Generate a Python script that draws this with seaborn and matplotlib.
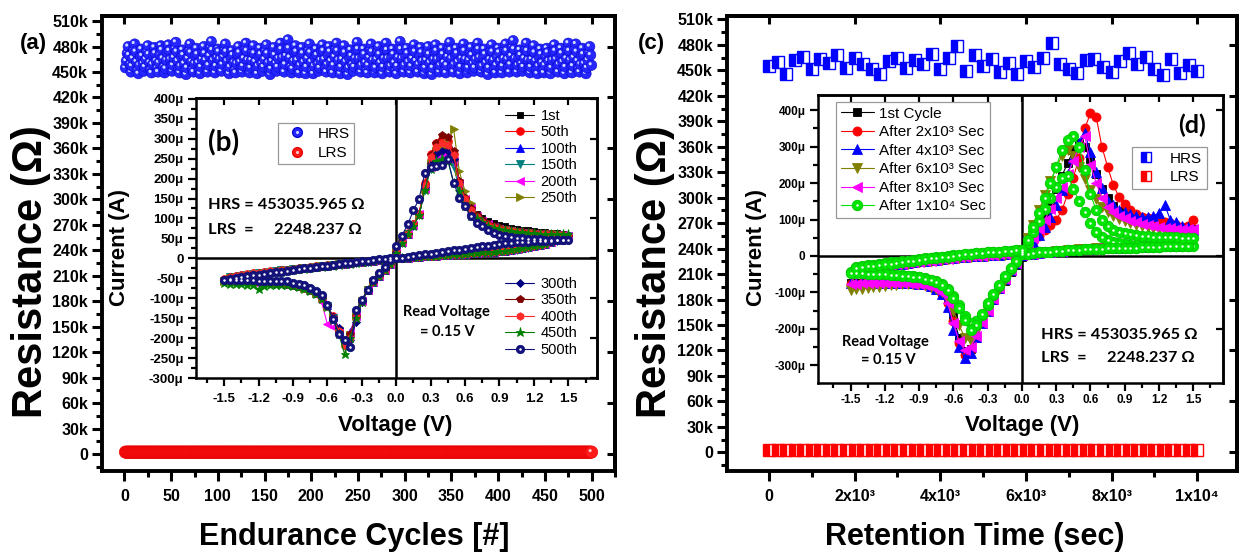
import numpy as np
import matplotlib
matplotlib.use("Agg")
import matplotlib.pyplot as plt
import seaborn as sns
from matplotlib.ticker import MultipleLocator, FuncFormatter, NullFormatter
from matplotlib.lines import Line2D

# ======================= DATA =======================
# (a) endurance: HRS in kOhm, LRS in Ohm, one value per cycle
hrs_endurance_k = [
455,463,472,480,470,459,450,457,466,476,483,474,462,452,448,458,468,477,469,460,451,456,465,474,481,
471,461,453,449,459,470,479,472,463,455,450,461,471,481,476,466,456,449,454,464,473,482,475,465,457,
451,458,467,478,485,474,463,454,449,457,468,476,470,460,452,447,455,466,475,483,473,462,453,450,460,
469,478,471,461,452,448,456,465,474,480,472,464,455,450,458,469,479,486,476,464,454,449,457,467,477,
474,465,456,451,459,468,476,483,474,463,453,448,456,466,475,470,461,452,449,460,471,480,473,462,454,
450,457,466,477,484,475,464,455,449,455,464,473,481,472,462,453,448,457,468,478,471,460,451,456,465,
475,482,472,461,452,447,454,463,472,479,470,460,451,456,466,476,484,477,467,457,450,459,469,478,488,
478,467,456,449,454,463,473,481,474,464,454,449,458,469,479,472,462,453,448,456,466,476,483,473,462,
452,448,457,467,477,470,460,451,455,464,474,482,475,465,455,450,459,470,480,474,463,453,449,458,468,
477,484,475,464,454,448,456,465,475,481,473,462,452,447,455,466,476,469,459,451,456,466,476,485,477,
466,456,450,458,468,477,471,461,452,449,458,467,476,483,474,464,455,449,455,465,474,480,471,461,453,
448,456,466,476,484,476,466,457,450,457,467,477,471,461,452,448,457,467,478,486,477,466,456,450,458,
468,478,472,462,453,449,457,466,475,482,474,463,454,450,459,469,479,473,463,454,448,455,464,473,480,
471,461,452,447,455,465,474,482,475,465,456,450,458,468,478,471,461,452,449,458,468,477,485,476,466,
456,450,459,469,478,472,462,453,448,456,466,475,483,475,465,455,449,455,464,473,479,470,460,451,455,
465,475,484,477,467,457,450,457,467,477,471,461,452,447,455,465,475,482,474,464,454,449,458,468,478,
473,463,454,449,457,466,476,483,475,465,456,450,459,469,479,487,477,466,456,450,458,467,476,470,460,
451,456,466,476,484,475,464,455,449,456,465,474,481,473,463,453,448,457,467,477,471,461,452,449,458,
468,478,473,463,454,448,455,464,474,482,475,465,456,450,459,469,478,472,462,453,448,456,466,476,484,
475,464,455,449,457,467,477,483,474,463,454,450,459,469,478,471,460,452,448,455,464,473,480,470,458,
]
lrs_endurance_ohm = [
2251,2244,2257,2239,2248,2262,2246,2235,2253,2249,2241,2258,2245,2252,2237,2247,2256,2242,2250,2243,2259,2238,2251,2246,2254,
2240,2249,2257,2243,2252,2246,2238,2255,2248,2241,2253,2245,2250,2236,2256,2244,2249,2252,2240,2258,2247,2242,2254,2246,2251,
2248,2255,2239,2250,2244,2261,2247,2236,2252,2249,2243,2257,2245,2251,2238,2248,2255,2241,2250,2244,2258,2237,2252,2247,2253,
2242,2250,2256,2244,2251,2247,2239,2254,2249,2240,2252,2246,2251,2237,2255,2245,2248,2253,2241,2257,2246,2243,2255,2247,2250,
2249,2254,2240,2251,2245,2260,2248,2237,2251,2250,2244,2256,2246,2250,2239,2249,2254,2242,2251,2245,2257,2238,2251,2248,2252,
2243,2251,2255,2245,2250,2248,2240,2253,2250,2241,2251,2247,2252,2238,2254,2246,2247,2254,2242,2256,2247,2244,2254,2248,2249,
2250,2253,2241,2252,2246,2259,2249,2238,2250,2251,2245,2255,2247,2249,2240,2250,2253,2243,2252,2246,2256,2239,2250,2249,2251,
2244,2252,2254,2246,2249,2249,2241,2252,2251,2242,2250,2248,2253,2239,2253,2247,2246,2255,2243,2255,2248,2245,2253,2249,2248,
2251,2252,2242,2253,2247,2258,2250,2239,2249,2252,2246,2254,2248,2248,2241,2251,2252,2244,2253,2247,2255,2240,2249,2250,2250,
2245,2253,2253,2247,2248,2250,2242,2251,2252,2243,2249,2249,2254,2240,2252,2248,2245,2256,2244,2254,2249,2246,2252,2250,2247,
2252,2251,2243,2254,2248,2257,2251,2240,2248,2253,2247,2253,2249,2247,2242,2252,2251,2245,2254,2248,2254,2241,2248,2251,2249,
2246,2254,2252,2248,2247,2251,2243,2250,2253,2244,2248,2250,2255,2241,2251,2249,2244,2257,2245,2253,2250,2247,2251,2251,2246,
2253,2250,2244,2255,2249,2256,2252,2241,2247,2254,2248,2252,2250,2246,2243,2253,2250,2246,2255,2249,2253,2242,2247,2252,2248,
2247,2255,2251,2249,2246,2252,2244,2249,2254,2245,2247,2251,2256,2242,2250,2250,2243,2258,2246,2252,2251,2248,2250,2252,2245,
2254,2249,2245,2256,2250,2255,2253,2242,2246,2255,2249,2251,2251,2245,2244,2254,2249,2247,2256,2250,2252,2243,2246,2253,2247,
2248,2256,2250,2250,2245,2253,2245,2248,2255,2246,2246,2252,2257,2243,2249,2251,2242,2259,2247,2251,2252,2249,2249,2253,2244,
2255,2248,2246,2257,2251,2254,2254,2243,2245,2256,2250,2250,2252,2244,2245,2255,2248,2248,2257,2251,2251,2244,2245,2254,2246,
2249,2257,2249,2251,2244,2254,2246,2247,2256,2247,2245,2253,2258,2244,2248,2252,2241,2260,2248,2250,2253,2250,2248,2254,2243,
2256,2247,2247,2258,2252,2253,2255,2244,2244,2257,2251,2249,2253,2243,2246,2256,2247,2249,2258,2252,2250,2245,2244,2255,2245,
2250,2258,2248,2252,2243,2255,2247,2246,2257,2248,2244,2254,2259,2245,2247,2253,2240,2261,2249,2249,2254,2251,2247,2255,2248,
]

# (c) retention
retention_time_s = [0,200,400,600,800,1000,1200,1400,1600,1800,2000,2200,2400,2600,2800,3000,3200,3400,3600,3800,
                    4000,4200,4400,4600,4800,5000,5200,5400,5600,5800,6000,6200,6400,6600,6800,7000,7200,7400,7600,7800,
                    8000,8200,8400,8600,8800,9000,9200,9400,9600,9800,10000]
hrs_retention_k = [455,460,446,462,466,452,463,459,468,453,464,458,452,446,461,465,453,462,458,469,
                   452,464,479,449,468,455,463,448,459,446,461,454,465,482,458,452,447,462,463,454,
                   448,461,470,457,466,452,445,463,447,456,449]
lrs_retention_ohm = [2251,2243,2256,2239,2248,2262,2245,2237,2253,2249,2241,2258,2246,2252,2236,2247,2255,2242,2250,2244,
                     2259,2238,2251,2247,2254,2240,2249,2257,2243,2252,2246,2239,2255,2248,2241,2253,2245,2250,2237,2256,
                     2244,2249,2252,2240,2258,2247,2243,2254,2246,2251,2248]

# voltage sweep: 0 -> 1.5 -> 0 -> -1.5 -> 0 (V)
sweep_v = [0.00,0.05,0.10,0.15,0.20,0.25,0.30,0.35,0.40,0.45,0.50,0.55,0.60,0.65,0.70,0.75,0.80,0.85,0.90,0.95,
           1.00,1.05,1.10,1.15,1.20,1.25,1.30,1.35,1.40,1.45,1.50,
           1.45,1.40,1.35,1.30,1.25,1.20,1.15,1.10,1.05,1.00,0.95,0.90,0.85,0.80,0.75,0.70,0.65,0.60,0.55,0.50,
           0.45,0.40,0.35,0.30,0.25,0.20,0.15,0.10,0.05,0.00,
           -0.05,-0.10,-0.15,-0.20,-0.25,-0.30,-0.35,-0.40,-0.45,-0.50,-0.55,-0.60,-0.65,-0.70,-0.75,-0.80,-0.85,-0.90,-0.95,-1.00,
           -1.05,-1.10,-1.15,-1.20,-1.25,-1.30,-1.35,-1.40,-1.45,-1.50,
           -1.45,-1.40,-1.35,-1.30,-1.25,-1.20,-1.15,-1.10,-1.05,-1.00,-0.95,-0.90,-0.85,-0.80,-0.75,-0.70,-0.65,-0.60,-0.55,-0.50,
           -0.45,-0.40,-0.35,-0.30,-0.25,-0.20,-0.15,-0.10,-0.05,0.00]

# (b) I-V curves at several endurance cycles, current in microamps
iv_b_1st = [0,1,2,3,4,5,6,7,8,9,10,11,12,13,14,15,16,17,18,19,21,23,25,28,31,34,37,41,45,50,58,
    62,63,64,65,66,68,70,72,74,77,80,84,88,94,101,112,128,150,188,245,275,282,272,240,175,108,84,61,39,14,
    -14,-28,-42,-58,-78,-106,-140,-190,-212,-180,-150,-120,-100,-88,-80,-74,-70,-67,-65,-64,-63,-62,-61,-60,-60,-59,-59,-58,-58,-58,
    -48,-46,-44,-42,-40,-38,-36,-34,-32,-31,-29,-28,-26,-25,-23,-22,-20,-19,-17,-16,-14,-13,-11,-10,-8,-7,-5,-3,-1,0]
iv_b_50th = [0,1,2,3,4,5,6,7,8,9,10,11,12,13,14,15,16,17,18,19,21,23,25,28,31,34,37,41,45,50,56,
    59,59,60,60,61,62,63,65,67,69,71,75,79,85,92,104,121,145,188,262,295,300,290,262,190,112,86,63,41,16,
    -15,-30,-45,-60,-80,-108,-145,-195,-215,-178,-145,-118,-98,-86,-78,-72,-68,-65,-63,-61,-60,-58,-57,-56,-55,-54,-53,-52,-52,-51,
    -46,-44,-42,-40,-38,-36,-34,-32,-31,-29,-28,-26,-25,-23,-22,-20,-19,-17,-16,-14,-13,-12,-10,-9,-7,-6,-4,-3,-1,0]
iv_b_100th = [0,1,2,3,4,5,6,7,8,9,10,11,12,13,14,15,16,17,18,19,21,23,25,28,31,34,37,41,45,50,56,
    58,59,59,60,61,62,63,64,66,68,71,74,78,84,92,103,120,148,195,255,272,268,262,235,178,110,84,62,40,15,
    -14,-29,-44,-59,-79,-105,-142,-185,-205,-175,-148,-118,-99,-87,-79,-73,-69,-66,-64,-62,-61,-60,-59,-58,-57,-57,-56,-56,-55,-55,
    -47,-45,-43,-41,-39,-37,-35,-33,-31,-30,-28,-27,-25,-24,-22,-21,-19,-18,-16,-15,-13,-12,-10,-9,-7,-6,-4,-3,-1,0]
iv_b_150th = [0,1,2,3,4,5,6,7,8,9,10,11,12,13,14,15,16,17,18,19,20,22,24,27,30,33,36,40,44,49,55,
    57,57,58,58,59,60,61,62,64,66,68,71,75,80,88,98,112,135,175,230,250,252,248,225,172,108,82,60,39,14,
    -14,-29,-44,-60,-80,-110,-150,-200,-218,-182,-150,-120,-100,-88,-80,-74,-70,-67,-65,-63,-62,-61,-60,-59,-59,-58,-58,-57,-57,-57,
    -48,-46,-44,-42,-40,-38,-36,-34,-32,-30,-29,-27,-26,-24,-23,-21,-20,-18,-17,-15,-14,-12,-11,-9,-8,-6,-5,-3,-2,0]
iv_b_200th = [0,1,2,3,4,5,6,7,8,9,10,11,12,13,14,15,16,17,18,19,21,23,25,28,31,34,37,41,45,50,56,
    58,58,59,60,61,62,63,64,66,68,71,74,79,85,94,106,125,150,190,245,262,265,255,230,175,110,83,61,40,15,
    -14,-29,-44,-60,-80,-108,-145,-185,-205,-185,-172,-165,-110,-92,-82,-75,-70,-67,-65,-63,-62,-61,-60,-59,-59,-58,-58,-57,-57,-57,
    -47,-45,-43,-41,-39,-37,-35,-33,-31,-30,-28,-27,-25,-24,-22,-21,-19,-18,-16,-15,-13,-12,-10,-9,-7,-6,-4,-3,-1,0]
iv_b_250th = [0,1,2,3,4,5,6,7,8,9,10,11,12,13,14,15,16,17,18,19,21,23,25,28,31,34,37,41,45,50,56,
    59,60,60,61,62,63,64,66,68,70,73,77,82,89,98,112,140,168,218,325,290,280,270,240,175,110,85,62,40,15,
    -14,-29,-44,-60,-80,-108,-145,-192,-212,-180,-148,-120,-100,-88,-80,-74,-70,-67,-65,-63,-62,-61,-60,-59,-59,-58,-58,-57,-57,-57,
    -49,-47,-45,-43,-41,-39,-37,-35,-33,-31,-29,-28,-26,-25,-23,-22,-20,-18,-17,-15,-14,-12,-11,-9,-8,-6,-5,-3,-2,0]
iv_b_300th = [0,1,2,3,4,5,6,7,8,9,10,11,12,13,14,15,16,17,18,19,21,23,25,28,31,34,37,41,45,50,56,
    58,58,59,60,61,62,63,65,67,69,72,75,80,86,95,108,126,152,192,250,268,270,262,238,178,110,84,61,40,15,
    -14,-29,-44,-60,-80,-110,-160,-205,-210,-175,-148,-120,-100,-88,-80,-74,-70,-67,-65,-63,-62,-61,-60,-59,-59,-58,-58,-57,-57,-57,
    -47,-45,-43,-41,-39,-37,-35,-33,-31,-30,-28,-27,-25,-24,-22,-21,-19,-18,-16,-15,-13,-12,-10,-9,-7,-6,-4,-3,-1,0]
iv_b_350th = [0,1,2,3,4,5,6,7,8,9,10,11,12,13,14,15,16,17,18,19,21,23,25,28,31,34,37,41,45,50,56,
    59,59,60,61,62,63,64,65,67,69,72,75,80,86,95,108,126,152,195,270,305,308,290,258,185,112,85,62,40,15,
    -14,-29,-44,-60,-80,-108,-145,-190,-208,-185,-150,-120,-100,-88,-80,-74,-70,-67,-65,-63,-62,-61,-60,-59,-59,-58,-58,-57,-57,-57,
    -48,-46,-44,-42,-40,-38,-36,-34,-32,-30,-29,-27,-26,-24,-23,-21,-20,-18,-17,-15,-14,-12,-11,-9,-8,-6,-5,-3,-2,0]
iv_b_400th = [0,1,2,3,4,5,6,7,8,9,10,11,12,13,14,15,16,17,18,19,21,23,25,28,31,34,37,41,45,50,56,
    58,59,59,60,61,62,63,64,66,68,71,74,78,84,92,104,122,148,190,258,285,290,280,255,185,112,85,62,40,15,
    -15,-30,-45,-60,-80,-108,-148,-200,-220,-182,-150,-120,-100,-88,-80,-74,-70,-67,-65,-63,-62,-61,-60,-59,-58,-57,-56,-55,-55,-54,
    -46,-44,-42,-40,-38,-36,-34,-32,-31,-29,-28,-26,-25,-23,-22,-20,-19,-17,-16,-14,-13,-12,-10,-9,-7,-6,-4,-3,-1,0]
iv_b_450th = [0,1,2,3,4,5,6,7,8,9,10,11,12,13,14,15,16,17,18,19,21,23,25,28,31,34,37,41,45,52,60,
    62,62,62,62,62,63,64,65,66,68,70,73,77,82,90,100,105,130,170,190,245,250,245,225,172,108,82,60,39,14,
    -15,-30,-45,-60,-80,-110,-150,-200,-240,-190,-155,-122,-102,-90,-82,-76,-72,-69,-67,-66,-66,-67,-70,-77,-68,-66,-65,-64,-64,-63,
    -52,-50,-47,-45,-43,-41,-39,-37,-35,-33,-31,-29,-27,-26,-24,-22,-21,-19,-18,-16,-14,-13,-11,-10,-8,-6,-5,-3,-2,0]
iv_b_500th = [0,2,4,6,8,10,12,14,16,18,20,22,24,26,28,30,32,34,36,38,39,40,41,42,43,43,44,44,45,45,46,
    46,46,47,47,48,48,49,50,51,53,55,58,63,72,80,88,105,130,152,190,248,235,232,228,215,150,120,85,57,30,
    -3,-22,-38,-55,-80,-105,-130,-222,-205,-190,-152,-118,-92,-82,-74,-68,-64,-61,-58,-57,-56,-56,-56,-56,-55,-55,-55,-55,-55,-55,
    -52,-49,-47,-45,-43,-41,-39,-37,-35,-33,-31,-29,-27,-25,-23,-21,-20,-18,-16,-14,-12,-11,-9,-7,-6,-4,-2,-1,1,2]
b_labels = ["1st", "50th", "100th", "150th", "200th", "250th", "300th", "350th", "400th", "450th", "500th"]

# (d) I-V curves during retention, current in microamps
iv_d_1st = [2,4,6,8,10,11,13,14,16,17,18,19,20,21,22,22,23,23,24,24,25,25,26,26,27,27,28,28,29,29,74,
    74,76,78,80,82,85,88,91,95,100,106,114,124,138,158,185,225,265,300,310,290,255,220,185,150,115,80,50,22,-2,
    -25,-45,-68,-92,-120,-150,-185,-225,-255,-262,-225,-165,-125,-100,-88,-80,-76,-74,-73,-72,-72,-71,-71,-71,-72,-72,-73,-73,-74,-75,
    -38,-36,-34,-32,-30,-28,-26,-24,-22,-21,-19,-17,-15,-14,-12,-10,-9,-7,-5,-4,-2,-1,0,1,2,3,3,4,4,5]
iv_d_2k = [2,4,6,8,10,11,13,14,16,17,18,19,20,21,22,22,23,23,24,24,25,25,26,26,27,27,28,28,29,29,99,
    82,80,86,91,92,94,98,103,108,115,125,142,162,195,245,300,382,392,350,270,215,170,125,100,85,70,55,40,22,5,
    -20,-40,-60,-85,-112,-145,-180,-220,-255,-272,-240,-180,-130,-105,-92,-84,-80,-78,-76,-75,-75,-74,-74,-74,-74,-75,-75,-75,-76,-76,
    -37,-35,-33,-31,-29,-27,-25,-23,-21,-20,-18,-16,-14,-13,-11,-9,-8,-6,-4,-3,-1,0,1,2,3,4,4,5,5,6]
iv_d_4k = [2,4,6,8,10,11,13,14,16,17,18,19,20,21,22,22,23,23,24,24,25,25,26,26,27,27,28,28,29,29,72,
    80,82,92,98,140,118,110,107,107,110,115,120,127,140,150,187,230,285,338,310,270,225,180,140,108,80,58,38,18,2,
    -20,-40,-62,-88,-118,-150,-185,-222,-267,-281,-249,-203,-140,-105,-90,-82,-78,-76,-75,-74,-74,-73,-73,-73,-74,-74,-74,-75,-75,-75,
    -36,-34,-32,-30,-28,-26,-24,-22,-21,-19,-17,-15,-14,-12,-10,-9,-7,-6,-4,-3,-1,0,1,2,3,3,4,4,5,5]
iv_d_6k = [2,4,6,8,10,11,13,14,16,17,18,19,20,21,22,22,23,23,24,24,25,25,26,26,27,27,28,28,29,29,65,
    66,67,68,70,72,74,76,79,82,86,90,95,102,110,120,135,155,180,210,245,275,290,275,242,205,167,125,85,50,15,
    -22,-42,-65,-90,-118,-150,-180,-210,-235,-225,-190,-150,-120,-100,-90,-84,-80,-78,-77,-77,-78,-79,-80,-82,-84,-86,-88,-90,-92,-93,
    -38,-36,-34,-32,-30,-28,-26,-24,-22,-21,-19,-17,-15,-14,-12,-10,-9,-7,-5,-4,-2,-1,0,1,2,3,3,4,4,5]
iv_d_8k = [2,4,6,8,10,11,13,14,16,17,18,19,20,21,22,22,23,23,24,24,25,25,26,26,27,27,28,28,29,29,75,
    73,74,75,76,78,80,82,85,88,92,97,103,110,120,135,160,200,250,330,300,260,225,190,160,130,100,75,50,25,5,
    -20,-40,-62,-88,-118,-150,-185,-220,-250,-258,-235,-185,-130,-102,-90,-83,-79,-77,-76,-75,-75,-74,-74,-74,-74,-75,-75,-75,-76,-76,
    -37,-35,-33,-31,-29,-27,-25,-23,-21,-20,-18,-16,-14,-13,-11,-9,-8,-6,-4,-3,-1,0,1,2,3,4,4,5,5,6]
iv_d_10k_a = [4,6,8,10,11,12,13,14,15,16,17,18,19,20,20,21,21,22,22,23,23,24,24,25,25,26,26,27,27,28,50,
    50,50,51,51,52,52,53,54,55,57,59,62,66,72,82,98,125,170,235,300,330,318,290,245,200,158,118,80,45,12,
    -15,-32,-55,-80,-105,-130,-160,-190,-204,-176,-143,-116,-93,-80,-72,-66,-62,-59,-57,-55,-54,-53,-52,-51,-50,-49,-49,-48,-48,-48,
    -33,-31,-29,-27,-25,-23,-21,-19,-17,-15,-13,-11,-9,-7,-5,-3,-2,0,2,4,5,7,8,10,11,12,13,14,15,16]
iv_d_10k_b = [4,6,8,10,11,12,13,14,15,16,17,18,19,20,20,21,21,22,22,23,23,24,24,25,25,26,26,27,27,28,27,
    26,26,26,27,27,27,28,28,29,30,31,33,35,38,43,52,65,90,120,150,185,220,215,190,160,128,95,65,35,8,
    -18,-36,-58,-82,-108,-135,-162,-180,-185,-165,-135,-110,-90,-78,-70,-65,-61,-58,-56,-54,-53,-52,-51,-50,-49,-48,-47,-46,-45,-44,
    -30,-28,-26,-24,-22,-20,-18,-16,-14,-13,-11,-9,-7,-5,-4,-2,0,2,3,5,6,8,9,10,11,12,13,14,15,16]
d_labels = ["1st Cycle", "After 2x10\u00b3 Sec", "After 4x10\u00b3 Sec", "After 6x10\u00b3 Sec",
            "After 8x10\u00b3 Sec", "After 1x10\u2074 Sec"]

for _name in ["iv_b_1st", "iv_b_50th", "iv_b_100th", "iv_b_150th", "iv_b_200th", "iv_b_250th", "iv_b_300th",
              "iv_b_350th", "iv_b_400th", "iv_b_450th", "iv_b_500th", "iv_d_1st", "iv_d_2k", "iv_d_4k",
              "iv_d_6k", "iv_d_8k", "iv_d_10k_a", "iv_d_10k_b"]:
    if len(globals()[_name]) != len(sweep_v):
        raise SystemExit(f"{_name}: {len(globals()[_name])} != {len(sweep_v)}")

# ======================= STYLE =======================
sns.set_theme(style="white")
plt.rcParams['font.family'] = ['Liberation Sans', 'DejaVu Sans']
plt.rcParams['font.weight'] = 'bold'
plt.rcParams['axes.unicode_minus'] = False
for k in ['text.color', 'axes.labelcolor', 'xtick.color', 'ytick.color', 'axes.edgecolor']:
    plt.rcParams[k] = 'black'

W, H = 1243, 556
fig = plt.figure(figsize=(W / 100, H / 100), dpi=100)
fig.patch.set_facecolor('white')

def fx(px): return px / W
def fy(py): return 1 - py / H
def rect(l, t, r, b): return [fx(l), fy(b), fx(r) - fx(l), fy(t) - fy(b)]

CAL = ['Lato', 'DejaVu Sans']
REG = {'family': ['Liberation Sans', 'DejaVu Sans'], 'weight': 'normal'}

ax_a = fig.add_axes(rect(102, 16, 615, 471))
ax_c = fig.add_axes(rect(727, 16, 1237, 471))
ax_b = fig.add_axes(rect(196, 98, 597, 378))
ax_d = fig.add_axes(rect(818, 95, 1223, 383))


def frame(ax, xmaj, xmin, ymaj, ymin, lw, L, Lm, lsize, pad, tw):
    ax.set_facecolor('white')
    for s in ax.spines.values():
        s.set_visible(True)
        s.set_linewidth(lw)
        s.set_color('black')
    ax.xaxis.set_major_locator(MultipleLocator(xmaj))
    ax.xaxis.set_minor_locator(MultipleLocator(xmin))
    ax.yaxis.set_major_locator(MultipleLocator(ymaj))
    ax.yaxis.set_minor_locator(MultipleLocator(ymin))
    ax.tick_params(which='both', direction='out', bottom=True, left=True, top=False, right=False,
                   width=tw, labelsize=lsize, pad=pad)
    ax.tick_params(which='major', length=L)
    ax.tick_params(which='minor', length=Lm)
    top = ax.secondary_xaxis('top')
    top.xaxis.set_major_locator(MultipleLocator(xmaj))
    top.xaxis.set_major_formatter(NullFormatter())
    top.tick_params(which='both', direction='in', top=True, labeltop=False, width=tw)
    top.tick_params(which='major', length=L * 0.8)
    top.tick_params(which='minor', length=0)
    top.spines['top'].set_linewidth(lw)
    right = ax.secondary_yaxis('right')
    right.yaxis.set_major_locator(MultipleLocator(ymaj * 2))
    right.yaxis.set_major_formatter(NullFormatter())
    right.tick_params(which='both', direction='in', right=True, labelright=False, width=tw)
    right.tick_params(which='major', length=L * 0.8)
    right.tick_params(which='minor', length=0)
    right.spines['right'].set_linewidth(lw)


# ---------------- (a) endurance ----------------
ax_a.set_xlim(-24, 525)
ax_a.set_ylim(-20, 516)
frame(ax_a, 50, 25, 30, 15, 2.8, 7, 4, 11.5, 3, 2.2)
ax_a.yaxis.set_major_formatter(FuncFormatter(lambda v, p: "0" if abs(v) < 1e-6 else f"{int(round(v))}k"))
ax_a.set_xticks(np.arange(0, 501, 50))
ax_a.set_yticks(np.arange(0, 511, 30))

# ---------------- (c) retention ----------------
ax_c.set_xlim(-980, 10930)
ax_c.set_ylim(-22, 514)
frame(ax_c, 2000, 1000, 30, 15, 2.8, 7, 4, 11.5, 3, 2.2)
ax_c.yaxis.set_major_formatter(FuncFormatter(lambda v, p: "0" if abs(v) < 1e-6 else f"{int(round(v))}k"))
ax_c.set_xticks([0, 2000, 4000, 6000, 8000, 10000])
ax_c.set_xticklabels(["0", "2x10\u00b3", "4x10\u00b3", "6x10\u00b3", "8x10\u00b3", "1x10\u2074"])
ax_c.set_yticks(np.arange(0, 511, 30))
ax_a.tick_params(axis='x', pad=6)
ax_c.tick_params(axis='x', pad=6)


def spheres(ax, x, y, color, edge, hl, s, hs, off=(-1.5, 1.5)):
    xy = np.column_stack([np.asarray(x, float), np.asarray(y, float)])
    px = ax.transData.transform(xy)
    hxy = ax.transData.inverted().transform(px + np.array(off))
    n = len(xy)
    pts = np.empty((2 * n, 2))
    pts[0::2] = xy
    pts[1::2] = hxy
    sizes = np.empty(2 * n)
    sizes[0::2] = s
    sizes[1::2] = hs
    ax.scatter(pts[:, 0], pts[:, 1], s=sizes, c=[color, hl] * n, edgecolors=[edge, hl] * n,
               linewidths=[0.4, 0.0] * n, zorder=3, clip_on=False)


cyc_h = np.arange(1, len(hrs_endurance_k) + 1)
cyc_l = np.arange(1, len(lrs_endurance_ohm) + 1)
spheres(ax_a, cyc_l, np.array(lrs_endurance_ohm) / 1000.0, '#ff1a1a', '#e80000', '#ffc8c8', 78, 5)
spheres(ax_a, cyc_h, hrs_endurance_k, '#2626ff', '#0808d0', '#d0dcff', 55, 5)


def half_squares(ax, t, vals, color):
    # draw point by point so later markers overlap earlier ones (as in the original)
    for ti, vi in zip(t, vals):
        ax.plot([ti], [vi], ls='none', marker='s', ms=8.5, color=color, fillstyle='left',
                markerfacecoloralt='white', markeredgecolor=color, mew=1.0, zorder=3)


half_squares(ax_c, retention_time_s, hrs_retention_k, '#0000ff')
half_squares(ax_c, retention_time_s, np.array(lrs_retention_ohm) / 1000.0, '#ff0000')


# ---------------- insets ----------------
def iv(ax, cur, color, marker, ms, dot=False, mec=None):
    sns.lineplot(x=sweep_v, y=cur, sort=False, estimator=None, ax=ax, color=color, marker=marker,
                 markersize=ms, markeredgecolor=mec or color, markerfacecolor=color,
                 markeredgewidth=0.6, linewidth=0.8, legend=False)
    line = ax.get_lines()[-1]
    if dot:
        d, = ax.plot(sweep_v, cur, ls='none', marker='o', ms=1.8, color='white', mew=0)
        return (line, d)
    return line


for ax, (xl, yl, ymaj, ymin, lsz, xpad) in [(ax_b, ((-1.745, 1.75), (-300, 402), 50, 25, 9.5, 5)),
                                            (ax_d, ((-1.785, 1.76), (-349, 442), 100, 50, 8.5, 2))]:
    ax.set_xlim(*xl)
    ax.set_ylim(*yl)
    frame(ax, 0.3, 0.15, ymaj, ymin, 1.8, 6, 3.5, lsz, 3, 1.6)
    ax.set_xticks([-1.5, -1.2, -0.9, -0.6, -0.3, 0.0, 0.3, 0.6, 0.9, 1.2, 1.5])
    ax.xaxis.set_major_formatter(FuncFormatter(lambda v, p: f"{v:.1f}".replace("-0.0", "0.0")))
    ax.yaxis.set_major_formatter(FuncFormatter(lambda v, p: "0" if abs(v) < 1e-6 else f"{int(round(v))}\u03bc"))
    ax.axhline(0, color='black', lw=1.8, zorder=1.5)
    ax.axvline(0, color='black', lw=1.8, zorder=1.5)
    ax.tick_params(axis='x', pad=xpad)
ax_b.set_yticks(np.arange(-300, 401, 50))
ax_d.set_yticks(np.arange(-300, 401, 100))

b_styles = [(iv_b_1st, '#000000', 's', 5, False), (iv_b_50th, '#ff0000', 'o', 5.5, False),
            (iv_b_100th, '#0000ff', '^', 5.5, False), (iv_b_150th, '#008080', 'v', 5.5, False),
            (iv_b_200th, '#ff00ff', '<', 5.5, False), (iv_b_250th, '#808000', '>', 5.5, False),
            (iv_b_300th, '#000080', 'D', 4.5, False), (iv_b_350th, '#800000', 'p', 6, False),
            (iv_b_400th, '#ff2a2a', 'h', 5.5, False), (iv_b_450th, '#008000', '*', 6.5, False),
            (iv_b_500th, '#12127a', 'o', 6, True)]
b_handles = [iv(ax_b, c, col, m, ms, dot) for c, col, m, ms, dot in b_styles]
for ax in (ax_b, ax_d):
    ax.set_xlabel("")
    ax.set_ylabel("")

d_handles = [iv(ax_d, iv_d_1st, '#000000', 's', 5.5),
             iv(ax_d, iv_d_2k, '#ff0000', 'o', 6.5),
             iv(ax_d, iv_d_4k, '#0000ff', '^', 6.5),
             iv(ax_d, iv_d_6k, '#808000', 'v', 6.5),
             iv(ax_d, iv_d_8k, '#ff00ff', '<', 6.5)]
green_b = iv(ax_d, iv_d_10k_b, '#00e600', 'o', 7.5, True, mec='#00c800')
green_a = iv(ax_d, iv_d_10k_a, '#00e600', 'o', 7.5, True, mec='#00c800')
d_handles.append(green_a)
ax_d.set_xlabel("")
ax_d.set_ylabel("")

# legends in (b)
leg1 = ax_b.legend(b_handles[:6], b_labels[:6], loc='upper left', bbox_to_anchor=(fx(505), fy(109)),
                   bbox_transform=fig.transFigure, frameon=False, prop={**REG, 'size': 10.5},
                   handlelength=2.0, handletextpad=0.45, labelspacing=0.17, borderpad=0, borderaxespad=0)
ax_b.add_artist(leg1)
leg2 = ax_b.legend(b_handles[6:], b_labels[6:], loc='upper left', bbox_to_anchor=(fx(505), fy(277)),
                   bbox_transform=fig.transFigure, frameon=False, prop={**REG, 'size': 10.5},
                   handlelength=2.0, handletextpad=0.45, labelspacing=0.17, borderpad=0, borderaxespad=0)
ax_b.add_artist(leg2)
hs_b = (Line2D([], [], ls='none', marker='o', ms=7, color='#2626ff', mec='#0808d0'),
        Line2D([], [], ls='none', marker='o', ms=2.2, color='#d0dcff', mew=0))
ls_b = (Line2D([], [], ls='none', marker='o', ms=7, color='#ff1a1a', mec='#e80000'),
        Line2D([], [], ls='none', marker='o', ms=2.2, color='#ffc8c8', mew=0))
leg3 = ax_b.legend([hs_b, ls_b], ["HRS", "LRS"], loc='upper left', bbox_to_anchor=(fx(278), fy(123)),
                   bbox_transform=fig.transFigure, frameon=True, fancybox=False, prop={**REG, 'size': 11},
                   handlelength=2.0, handletextpad=0.35, labelspacing=0.35, borderpad=0.25, borderaxespad=0)
leg3.get_frame().set_edgecolor('#808080')
leg3.get_frame().set_linewidth(0.9)

# legends in (d)
leg4 = ax_d.legend(d_handles, d_labels, loc='upper left', bbox_to_anchor=(fx(836), fy(102)),
                   bbox_transform=fig.transFigure, frameon=True, fancybox=False, prop={**REG, 'size': 11},
                   handlelength=2.2, handletextpad=0.3, labelspacing=0.3, borderpad=0.3, borderaxespad=0)
leg4.get_frame().set_edgecolor('#808080')
leg4.get_frame().set_linewidth(0.9)
ax_d.add_artist(leg4)
hs_d = Line2D([], [], ls='none', marker='s', ms=7.5, color='#0000ff', fillstyle='left',
              markerfacecoloralt='white', mec='#0000ff', mew=1)
ls_d = Line2D([], [], ls='none', marker='s', ms=7.5, color='#ff0000', fillstyle='left',
              markerfacecoloralt='white', mec='#ff0000', mew=1)
leg5 = ax_d.legend([hs_d, ls_d], ["HRS", "LRS"], loc='upper left', bbox_to_anchor=(fx(1132), fy(147)),
                   bbox_transform=fig.transFigure, frameon=True, fancybox=False, prop={**REG, 'size': 11},
                   handlelength=1.2, handletextpad=1.0, labelspacing=0.3, borderpad=0.3, borderaxespad=0)
leg5.get_frame().set_edgecolor('#808080')
leg5.get_frame().set_linewidth(0.9)

# ---------------- texts ----------------
fig.text(fx(31), fy(272), "Resistance (\u03a9)", rotation=90, fontsize=30, ha='center', va='center')
fig.text(fx(655), fy(272), "Resistance (\u03a9)", rotation=90, fontsize=30, ha='center', va='center')
fig.text(fx(354), fy(537), "Endurance Cycles [#]", fontsize=22, ha='center', va='center')
fig.text(fx(975), fy(537), "Retention Time (sec)", fontsize=22, ha='center', va='center')
fig.text(fx(33), fy(44), "(a)", fontsize=16, ha='center', va='center')
fig.text(fx(651), fy(44), "(c)", fontsize=16, ha='center', va='center')
fig.text(fx(224), fy(143), "(b)", fontsize=20, ha='center', va='center', family=CAL)
fig.text(fx(1192), fy(125), "(d)", fontsize=18, ha='center', va='center', family=CAL)
fig.text(fx(120), fy(248), "Current (A)", rotation=90, fontsize=16, ha='center', va='center')
fig.text(fx(757), fy(247), "Current (A)", rotation=90, fontsize=16, ha='center', va='center')
fig.text(fx(395), fy(425), "Voltage (V)", fontsize=16, ha='center', va='center')
fig.text(fx(1022), fy(425), "Voltage (V)", fontsize=16, ha='center', va='center')

for (x0, x1, y0, y1) in [(208, 362, 205, 230), (1041, 1195, 335, 358)]:
    fig.text(fx(x0), fy(y0), "HRS = 453035.965 \u03a9", fontsize=11.8, ha='left', va='center', family=CAL)
    fig.text(fx(x0), fy(y1), "LRS  =", fontsize=11.8, ha='left', va='center', family=CAL)
    fig.text(fx(x1), fy(y1), "2248.237 \u03a9", fontsize=11.8, ha='right', va='center', family=CAL)

fig.text(fx(446), fy(312), "Read Voltage", fontsize=10.5, ha='center', va='center', family=CAL)
fig.text(fx(447), fy(332), "= 0.15 V", fontsize=10.5, ha='center', va='center', family=CAL)
fig.text(fx(885), fy(342), "Read Voltage", fontsize=10.5, ha='center', va='center', family=CAL)
fig.text(fx(888), fy(360), "= 0.15 V", fontsize=10.5, ha='center', va='center', family=CAL)

fig.savefig("out.png", dpi=100, facecolor='white')
